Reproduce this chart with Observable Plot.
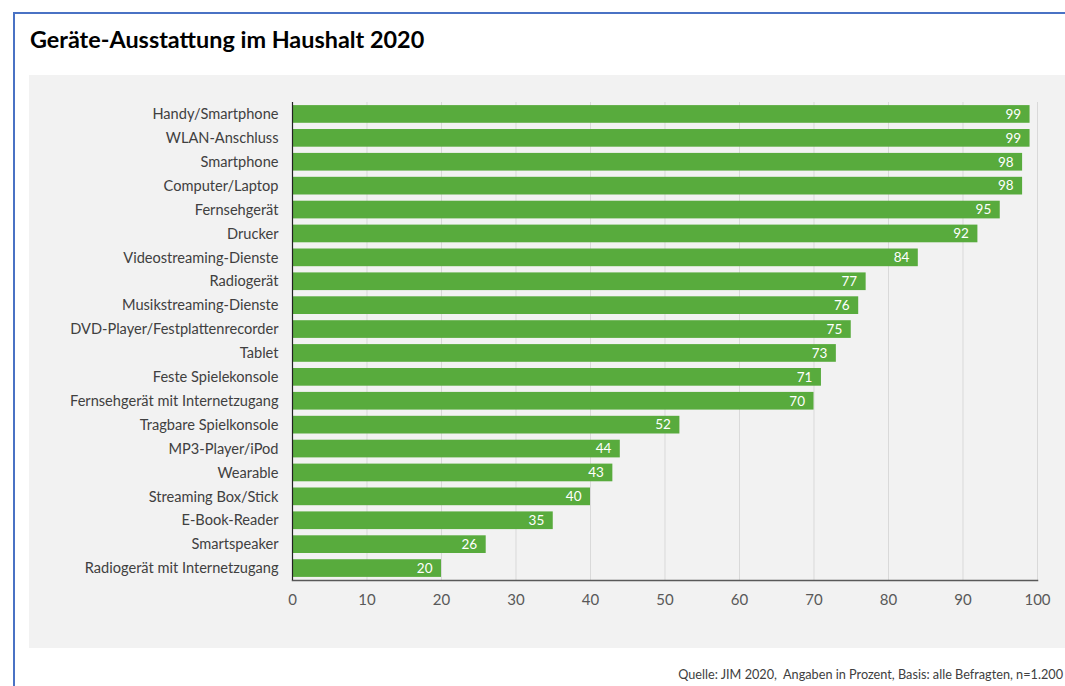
<!DOCTYPE html>
<html>
<head>
<meta charset="utf-8">
<script src="https://cdn.jsdelivr.net/npm/d3@7"></script>
<script src="https://cdn.jsdelivr.net/npm/@observablehq/plot@0.6"></script>
<style>
  html, body { margin: 0; padding: 0; background: #fff; }
  body { width: 1065px; height: 686px; position: relative; overflow: hidden; font-family: Lato, "Open Sans", sans-serif; }
  #frame { position: absolute; left: 13px; top: 12px; width: 1060px; height: 680px; border-left: 2px solid #4a72c4; border-top: 2px solid #4a72c4; }
  #title { position: absolute; left: 30px; top: 25px; font-size: 23.4px; font-weight: bold; color: #000; white-space: nowrap; }
  #chart { position: absolute; left: 29px; top: 75px; }
  #caption { position: absolute; right: 2px; top: 666px; font-size: 12.7px; color: #404040; white-space: nowrap; }
</style>
</head>
<body>
<div id="frame"></div>
<div id="title">Geräte-Ausstattung im Haushalt 2020</div>
<div id="chart"></div>
<div id="caption">Quelle: JIM 2020,&nbsp; Angaben in Prozent, Basis: alle Befragten, n=1.200</div>
<script>
const categories = [
  "Handy/Smartphone", "WLAN-Anschluss", "Smartphone", "Computer/Laptop", "Fernsehgerät",
  "Drucker", "Videostreaming-Dienste", "Radiogerät", "Musikstreaming-Dienste",
  "DVD-Player/Festplattenrecorder", "Tablet", "Feste Spielekonsole",
  "Fernsehgerät mit Internetzugang", "Tragbare Spielkonsole", "MP3-Player/iPod",
  "Wearable", "Streaming Box/Stick", "E-Book-Reader", "Smartspeaker",
  "Radiogerät mit Internetzugang"
];
const values = [99, 99, 98, 98, 95, 92, 84, 77, 76, 75, 73, 71, 70, 52, 44, 43, 40, 35, 26, 20];
const xTicks = [0, 10, 20, 30, 40, 50, 60, 70, 80, 90, 100];

const data = categories.map((c, i) => ({category: c, value: values[i]}));

const chart = Plot.plot({
  width: 1036,
  height: 573,
  marginLeft: 263,
  marginRight: 28,
  marginTop: 27,
  marginBottom: 68,
  style: {background: "#f2f2f2", fontFamily: "Lato, 'Open Sans', sans-serif", overflow: "visible"},
  x: {domain: [0, 100], ticks: xTicks},
  y: {domain: categories, paddingInner: 0.26, paddingOuter: 0.13, round: false},
  marks: [
    Plot.gridX(xTicks, {stroke: "#d9d9d9", strokeOpacity: 1}),
    Plot.barX(data, {x: "value", y: "category", fill: "#58ab3d"}),
    Plot.text(data, {x: "value", y: "category", text: d => String(d.value), textAnchor: "end", dx: -9, fill: "#ffffff", fontSize: 13.5}),
    Plot.axisX(xTicks, {tickSize: 0, tickPadding: 14, fontSize: 15, color: "#595959", label: null}),
    Plot.axisY({tickSize: 0, tickPadding: 14, fontSize: 14.6, color: "#404040", label: null}),
    Plot.frame({anchor: "bottom", stroke: "#595959", strokeWidth: 1.5}),
    Plot.ruleX([0], {stroke: "#222", strokeWidth: 1.2})
  ]
});
document.getElementById("chart").appendChild(chart);
</script>
</body>
</html>
